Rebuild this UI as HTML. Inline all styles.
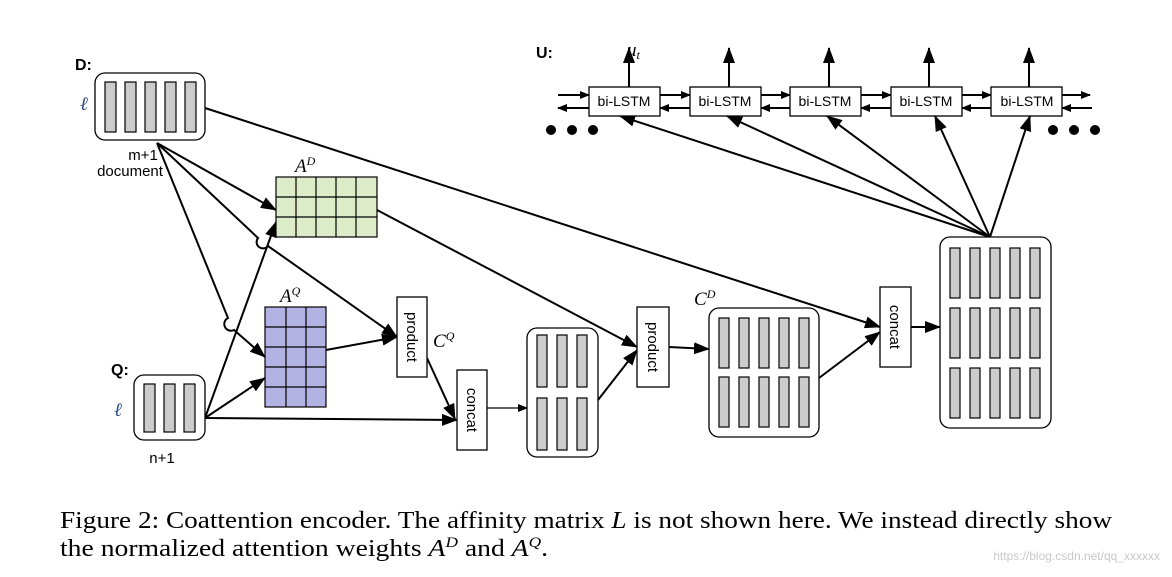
<!DOCTYPE html>
<html><head><meta charset="utf-8"><style>
body{margin:0;background:#fff;width:1172px;height:577px;overflow:hidden}
svg{position:absolute;left:0;top:0}
.s{font-family:"Liberation Sans",sans-serif}
.t{font-family:"Liberation Serif",serif}
</style></head><body>
<svg width="1172" height="577" viewBox="0 0 1172 577">
<defs><marker id="a" markerWidth="10" markerHeight="8" refX="9" refY="4" orient="auto" markerUnits="userSpaceOnUse"><path d="M0,0L10,4L0,8z" fill="#000"/></marker>
<marker id="b" markerWidth="16" markerHeight="12" refX="15" refY="6" orient="auto" markerUnits="userSpaceOnUse"><path d="M0,0L16,6L0,12z" fill="#000"/></marker></defs>
<g stroke="#000" stroke-width="2" fill="none" marker-end="url(#b)">
<line x1="205" y1="108" x2="880" y2="327"/>
<line x1="157" y1="143" x2="276" y2="210"/>
<path d="M157,143 L258,238 a6,6 0 0 0 10,8 L397,337"/>
<path d="M157,143 L228,318 a6,6 0 0 0 6,12 L265,357"/>
<line x1="205" y1="418" x2="276" y2="222"/>
<line x1="205" y1="418" x2="265" y2="378"/>
<line x1="205" y1="418" x2="457" y2="420"/>
<line x1="326" y1="350" x2="397" y2="337"/>
<line x1="427" y1="358" x2="455" y2="419"/>
<line x1="377" y1="210" x2="637" y2="347"/>
<line x1="598" y1="400" x2="637" y2="350"/>
<line x1="669" y1="347" x2="709" y2="349"/>
<line x1="819" y1="378" x2="880" y2="332"/>
<line x1="911" y1="327" x2="940" y2="327"/>
<line x1="990" y1="237" x2="620" y2="116"/>
<line x1="990" y1="237" x2="727" y2="116"/>
<line x1="990" y1="237" x2="827" y2="116"/>
<line x1="990" y1="237" x2="935" y2="116"/>
<line x1="990" y1="237" x2="1030" y2="116"/>
<line x1="629" y1="87" x2="629" y2="48"/><line x1="729" y1="87" x2="729" y2="48"/><line x1="829" y1="87" x2="829" y2="48"/><line x1="929" y1="87" x2="929" y2="48"/><line x1="1029" y1="87" x2="1029" y2="48"/>
</g>
<line x1="487" y1="408" x2="527" y2="408" stroke="#000" stroke-width="1.3" marker-end="url(#a)"/>
<g stroke="#000" stroke-width="2" marker-end="url(#a)">
<line x1="558" y1="95" x2="589" y2="95"/><line x1="660" y1="95" x2="690" y2="95"/><line x1="761" y1="95" x2="790" y2="95"/><line x1="861" y1="95" x2="891" y2="95"/><line x1="962" y1="95" x2="991" y2="95"/><line x1="1062" y1="95" x2="1090" y2="95"/>
<line x1="589" y1="108" x2="558" y2="108"/><line x1="690" y1="108" x2="660" y2="108"/><line x1="790" y1="108" x2="761" y2="108"/><line x1="891" y1="108" x2="861" y2="108"/><line x1="991" y1="108" x2="962" y2="108"/><line x1="1092" y1="108" x2="1062" y2="108"/>
</g>
<g fill="#fff" stroke="#000" stroke-width="1.3">
<rect x="589" y="87" width="71" height="29"/><rect x="690" y="87" width="71" height="29"/><rect x="790" y="87" width="71" height="29"/><rect x="891" y="87" width="71" height="29"/><rect x="991" y="87" width="71" height="29"/>
<rect x="95" y="73" width="110" height="67" rx="10"/>
<rect x="134" y="375" width="71" height="65" rx="10"/>
<rect x="527" y="328" width="71" height="129" rx="10"/>
<rect x="709" y="308" width="110" height="129" rx="10"/>
<rect x="940" y="237" width="111" height="191" rx="10"/>
<rect x="397" y="297" width="30" height="80"/><rect x="457" y="370" width="30" height="80"/>
<rect x="637" y="307" width="32" height="80"/><rect x="880" y="287" width="31" height="80"/>
</g>
<g fill="#ccc" stroke="#000" stroke-width="1.2">
<rect x="105" y="82" width="11" height="50"/><rect x="125" y="82" width="11" height="50"/><rect x="145" y="82" width="11" height="50"/><rect x="165" y="82" width="11" height="50"/><rect x="185" y="82" width="11" height="50"/>
<rect x="144" y="384" width="11" height="48"/><rect x="164" y="384" width="11" height="48"/><rect x="184" y="384" width="11" height="48"/>
<rect x="537" y="335" width="10" height="52"/><rect x="557" y="335" width="10" height="52"/><rect x="577" y="335" width="10" height="52"/>
<rect x="537" y="398" width="10" height="52"/><rect x="557" y="398" width="10" height="52"/><rect x="577" y="398" width="10" height="52"/>
<rect x="719" y="318" width="10" height="50"/><rect x="739" y="318" width="10" height="50"/><rect x="759" y="318" width="10" height="50"/><rect x="779" y="318" width="10" height="50"/><rect x="799" y="318" width="10" height="50"/>
<rect x="719" y="377" width="10" height="50"/><rect x="739" y="377" width="10" height="50"/><rect x="759" y="377" width="10" height="50"/><rect x="779" y="377" width="10" height="50"/><rect x="799" y="377" width="10" height="50"/>
<g id="c"><rect x="950" y="248" width="10" height="50"/><rect x="970" y="248" width="10" height="50"/><rect x="990" y="248" width="10" height="50"/><rect x="1010" y="248" width="10" height="50"/><rect x="1030" y="248" width="10" height="50"/></g>
<use href="#c" y="60"/><use href="#c" y="120"/>
</g>
<g stroke="#000" stroke-width="1.2">
<rect x="276" y="177" width="101" height="60" fill="#dcebc8"/>
<path d="M296,177V237M316,177V237M336,177V237M356,177V237M276,197H377M276,217H377"/>
<rect x="265" y="307" width="61" height="100" fill="#b3b3e3"/>
<path d="M286,307V407M306,307V407M265,327H326M265,347H326M265,367H326M265,387H326"/>
</g>
<g fill="#000"><circle cx="551" cy="130" r="5"/><circle cx="572" cy="130" r="5"/><circle cx="593" cy="130" r="5"/><circle cx="1053" cy="130" r="5"/><circle cx="1074" cy="130" r="5"/><circle cx="1095" cy="130" r="5"/></g>
<g class="s" font-size="14">
<text x="624" y="106" text-anchor="middle">bi-LSTM</text><text x="725" y="106" text-anchor="middle">bi-LSTM</text><text x="825" y="106" text-anchor="middle">bi-LSTM</text><text x="926" y="106" text-anchor="middle">bi-LSTM</text><text x="1027" y="106" text-anchor="middle">bi-LSTM</text>
<text x="143" y="160" text-anchor="middle" font-size="15">m+1</text><text x="130" y="176" text-anchor="middle" font-size="15">document</text><text x="162" y="463" text-anchor="middle" font-size="15">n+1</text>
<text transform="translate(407,337) rotate(90)" text-anchor="middle" font-size="15">product</text>
<text transform="translate(467,410) rotate(90)" text-anchor="middle" font-size="15">concat</text>
<text transform="translate(648,347) rotate(90)" text-anchor="middle" font-size="15">product</text>
<text transform="translate(890,327) rotate(90)" text-anchor="middle" font-size="15">concat</text>
<text x="75" y="70" font-weight="bold" font-size="16">D:</text><text x="111" y="375" font-weight="bold" font-size="16">Q:</text><text x="536" y="58" font-weight="bold" font-size="16">U:</text>
</g>
<g class="t" font-style="italic" font-size="19">
<text x="80" y="110" fill="#2a4a8a">ℓ</text><text x="114" y="416" fill="#2a4a8a">ℓ</text>
<text x="295" y="172">A<tspan font-size="12" dy="-7">D</tspan></text>
<text x="280" y="302">A<tspan font-size="12" dy="-7">Q</tspan></text>
<text x="433" y="347">C<tspan font-size="12" dy="-7">Q</tspan></text>
<text x="694" y="305">C<tspan font-size="12" dy="-7">D</tspan></text>
<text x="627" y="56">u<tspan font-size="12" dy="3">t</tspan></text>
</g>
<g class="t" font-size="24">
<text x="60" y="528" textLength="1052" lengthAdjust="spacingAndGlyphs">Figure 2: Coattention encoder. The affinity matrix <tspan font-style="italic">L</tspan> is not shown here. We instead directly show</text>
<text x="60" y="556" textLength="488" lengthAdjust="spacingAndGlyphs">the normalized attention weights <tspan font-style="italic">A</tspan><tspan font-size="15" dy="-9" font-style="italic">D</tspan><tspan dy="9"> and </tspan><tspan font-style="italic">A</tspan><tspan font-size="15" dy="-9" font-style="italic">Q</tspan><tspan dy="9">.</tspan></text>
</g>
<text x="1160" y="560" text-anchor="end" class="s" font-size="12" fill="#c8c8c8">https://blog.csdn.net/qq_xxxxxx</text>
</svg>
</body></html>
